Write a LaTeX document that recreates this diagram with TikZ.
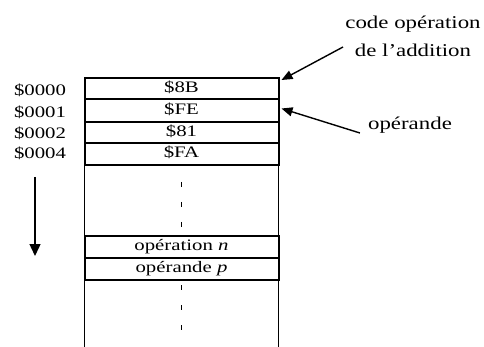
\documentclass[tikz,border=0pt]{standalone}
\usepackage{fontspec}
\setmainfont{Liberation Serif}
\usetikzlibrary{arrows.meta}
\newcommand{\wideA}[1]{\scalebox{1.3}[1]{#1}}
\newcommand{\wideB}[1]{\scalebox{1.27}[1]{#1}}
\begin{document}
\begin{tikzpicture}[x=1pt,y=-1pt,
  cell/.style={draw,line width=2pt,minimum width=194pt,inner sep=0pt,outer sep=0pt,
     font=\fontsize{16}{16}\selectfont,text height=10.5pt,text depth=3pt},
  addr/.style={font=\fontsize{16}{16}\selectfont,inner sep=0pt},
  lbl/.style={font=\fontsize{18}{28}\selectfont,inner sep=0pt,align=center},
  ptr/.style={line width=1.4pt,-{Triangle[length=11pt,width=9pt]}},
  dots/.style={line width=1.6pt,dash pattern=on 5pt off 15pt}]
\useasboundingbox (0,0) rectangle (484,347);
% memory rows
\node[cell,minimum height=21pt] (r0) at (181.5,88.5) {\wideA{\$8B}};
\node[cell,minimum height=23pt] (r1) at (181.5,110.5) {\wideA{\$FE}};
\node[cell,minimum height=21pt] (r2) at (181.5,132.5) {\wideA{\$81}};
\node[cell,minimum height=22pt] (r3) at (181.5,154) {\wideA{\$FA}};
\node[cell,minimum height=22pt] (rn) at (181.5,247) {\wideA{opération \textit{n}}};
\node[cell,minimum height=22pt] (rp) at (181.5,269) {\wideA{opérande \textit{p}}};
% side walls
\coordinate (bl) at (84.5,347);
\coordinate (br) at (278.5,347);
\draw[line width=1.8pt] (r3.south west) -- (rn.north west);
\draw[line width=1.8pt] (r3.south east) -- (rn.north east);
\draw[line width=1.8pt] (rp.south west) -- (bl);
\draw[line width=1.8pt] (rp.south east) -- (br);
% continuation dots
\coordinate (d1) at (181.5,182);
\coordinate (d2) at (181.5,234);
\coordinate (d3) at (181.5,285);
\coordinate (d4) at (181.5,337);
\draw[dots] (d1) -- (d2);
\draw[dots] (d3) -- (d4);
% addresses
\node[addr] (a0) at (40,90) {\wideA{\$0000}};
\node[addr] (a1) at (40,112) {\wideA{\$0001}};
\node[addr] (a2) at (40,133) {\wideA{\$0002}};
\node[addr] (a3) at (40,153) {\wideA{\$0004}};
% direction arrow
\coordinate (s0) at (35,177);
\coordinate (s1) at (35,256);
\draw[line width=1.4pt,-{Triangle[length=12pt,width=11pt]}] (s0) -- (s1);
% labels
\node[lbl] (code) at (413,36) {\wideB{code opération}\\\wideB{de l’addition}};
\node[lbl] (oper) at (410,125) {\wideB{opérande}};
\draw[ptr] (343,47) -- ([xshift=3pt,yshift=-2pt]r0.north east);
\draw[ptr] (oper.west) ++(-8,8) -- ([xshift=3pt,yshift=2pt]r1.east);
\end{tikzpicture}
\end{document}
